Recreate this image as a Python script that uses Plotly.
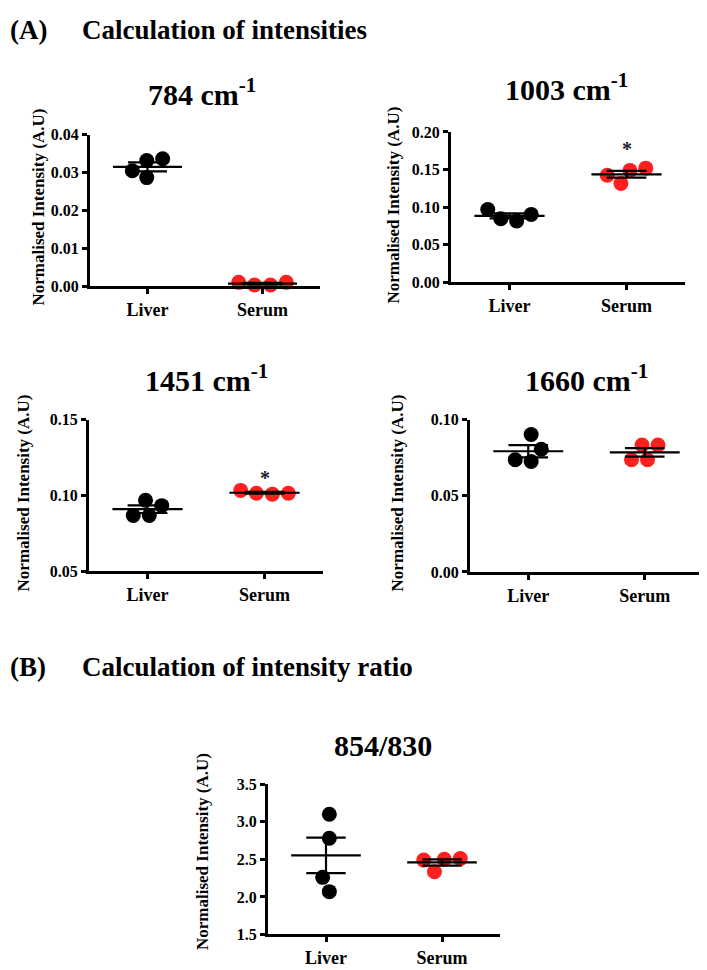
import numpy as np
import plotly.graph_objects as go

# the page body has an 8px margin, so the figure is shifted by that much
PAGE_W, PAGE_H, OFF = 707, 970, 8
W, H = PAGE_W - OFF, PAGE_H - OFF

groups = ["Liver", "Serum"]

# normalised intensities (4 spectra per group)
liver_784 = [0.0337, 0.0332, 0.0287, 0.0305]
serum_784 = [0.0010, 0.0003, 0.0003, 0.0010]
liver_1003 = [0.0902, 0.0816, 0.0846, 0.0967]
serum_1003 = [0.1488, 0.1518, 0.1315, 0.1423]
liver_1451 = [0.0932, 0.0867, 0.0867, 0.0968]
serum_1451 = [0.1014, 0.1008, 0.1014, 0.1033]
liver_1660 = [0.0806, 0.0903, 0.0726, 0.0737]
serum_1660 = [0.0834, 0.0834, 0.0737, 0.0737]
liver_ratio = [3.10, 2.78, 2.26, 2.07]
serum_ratio = [2.50, 2.335, 2.49, 2.51]

titles = ["784 cm<sup>-1</sup>", "1003 cm<sup>-1</sup>", "1451 cm<sup>-1</sup>",
          "1660 cm<sup>-1</sup>", "854/830"]
y_ranges = [(0, 0.04), (0, 0.20), (0.05, 0.15), (0, 0.10), (1.5, 3.5)]
y_dticks = [0.01, 0.05, 0.05, 0.05, 0.5]
y_formats = [".2f", ".2f", ".2f", ".2f", ".1f"]
significant = [False, True, True, False, False]

data = [
    (liver_784, serum_784),
    (liver_1003, serum_1003),
    (liver_1451, serum_1451),
    (liver_1660, serum_1660),
    (liver_ratio, serum_ratio),
]

# layout in page pixels: plot box (left, top, right, bottom), title centre, y-title centre
boxes = [(90, 129, 320, 283), (451, 126, 685, 279), (89, 419, 323, 573),
         (470, 419, 703, 574), (268, 790, 500, 943)]
title_pos = [(202, 91), (566, 86), (206, 383), (586, 383), (383, 751)]
title_has_sup = [True, True, True, True, False]
ytitle_pos = [(39, 203), (394, 201), (23, 494), (397, 494), (203, 858)]
star_shift = [0, 19, 12, 0, 0]

FONT = "Liberation Serif"
DOT = 15
colors = ["black", "#ff1f1f"]


def px(x):
    return (x - OFF) / W


def py(y):
    return 1 - (y - OFF) / H


def swarm(vals, px_per_unit, d=16.0):
    """simple beeswarm: pixel x offsets so dots don't overlap"""
    vals = np.asarray(vals, dtype=float)
    xs = np.zeros(len(vals))
    placed = []
    for i in np.argsort(vals, kind="stable"):
        y = vals[i] * px_per_unit
        cands = [0.0]
        for qx, qy in placed:
            dy = abs(y - qy)
            if dy < d:
                dx = np.sqrt(d * d - dy * dy)
                cands += [qx - dx, qx + dx]
        cands.sort(key=lambda c: (abs(c), c))
        for c in cands:
            if all((c - qx) ** 2 + (y - qy) ** 2 >= d * d - 1e-6 for qx, qy in placed):
                xs[i] = c
                placed.append((c, y))
                break
    return xs - (xs.max() + xs.min()) / 2


fig = go.Figure()
annotations = []

for k, (liver, serum) in enumerate(data):
    n = k + 1
    xa, ya = f"x{n}", f"y{n}"
    l, t, r, b = boxes[k]
    lo, hi = y_ranges[k]
    py_unit = (b - t) / (hi - lo)
    px_cat = (r - l) / 2.0

    for g, vals in enumerate([liver, serum]):
        off = swarm(vals, py_unit) / px_cat
        fig.add_trace(go.Scatter(
            x=g + off, y=vals, xaxis=xa, yaxis=ya, mode="markers",
            marker=dict(size=DOT, color=colors[g], line=dict(width=0)),
            cliponaxis=False, hoverinfo="y",
        ))

    for g, vals in enumerate([liver, serum]):
        m = np.mean(vals)
        sem = np.std(vals, ddof=1) / np.sqrt(len(vals))
        lx = [g - 0.3, g + 0.3, None, g - 0.17, g + 0.17, None,
              g - 0.17, g + 0.17, None, g, g]
        ly = [m, m, None, m + sem, m + sem, None,
              m - sem, m - sem, None, m - sem, m + sem]
        fig.add_trace(go.Scatter(
            x=lx, y=ly, xaxis=xa, yaxis=ya, mode="lines",
            line=dict(color="black", width=2.2), hoverinfo="skip",
        ))

    axis_common = dict(
        showline=True, linecolor="black", linewidth=3, mirror=False,
        ticks="outside", ticklen=5, tickwidth=3, tickcolor="black",
        showgrid=False, zeroline=False, fixedrange=True,
    )
    fig.update_layout({
        f"xaxis{n}": dict(
            domain=[px(l), px(r)], anchor=ya, range=[-0.5, 1.5],
            tickvals=[0, 1], ticktext=groups,
            tickfont=dict(family=FONT, size=18, color="black", weight="bold"),
            **axis_common,
        ),
        f"yaxis{n}": dict(
            domain=[py(b), py(t)], anchor=xa, range=[lo, hi],
            tick0=lo, dtick=y_dticks[k], tickformat=y_formats[k],
            tickfont=dict(family=FONT, size=16, color="black", weight="bold"),
            **axis_common,
        ),
    })

    tx, ty = title_pos[k]
    annotations.append(dict(
        text=titles[k], x=px(tx), y=py(ty), xref="paper", yref="paper",
        xanchor="center", yanchor="middle", showarrow=False,
        yshift=6 if title_has_sup[k] else 0,
        font=dict(family=FONT, size=30, color="black", weight="bold"),
    ))
    yx, yy = ytitle_pos[k]
    annotations.append(dict(
        text="Normalised Intensity (A.U)", x=px(yx), y=py(yy),
        xref="paper", yref="paper", xanchor="center", yanchor="middle",
        textangle=-90, showarrow=False,
        font=dict(family=FONT, size=17, color="black", weight="bold"),
    ))
    if significant[k]:
        annotations.append(dict(
            text="*", x=1, y=max(serum), xref=xa, yref=ya,
            xanchor="center", yanchor="middle", yshift=star_shift[k],
            showarrow=False,
            font=dict(family=FONT, size=20, color="#1a1a2e", weight="bold"),
        ))

for label, text, cy in [("(A)", "Calculation of intensities", 22),
                        ("(B)", "Calculation of intensity ratio", 671)]:
    for s, x0 in [(label, OFF), (text, 80)]:
        annotations.append(dict(
            text=s, x=px(x0), y=py(cy),
            xref="paper", yref="paper",
            xanchor="left", yanchor="middle", showarrow=False,
            font=dict(family=FONT, size=27, color="black", weight="bold"),
        ))

fig.update_layout(
    width=W, height=H, margin=dict(l=0, r=0, t=0, b=0),
    paper_bgcolor="white", plot_bgcolor="white",
    showlegend=False, annotations=annotations,
)

fig.write_html("out.html")
